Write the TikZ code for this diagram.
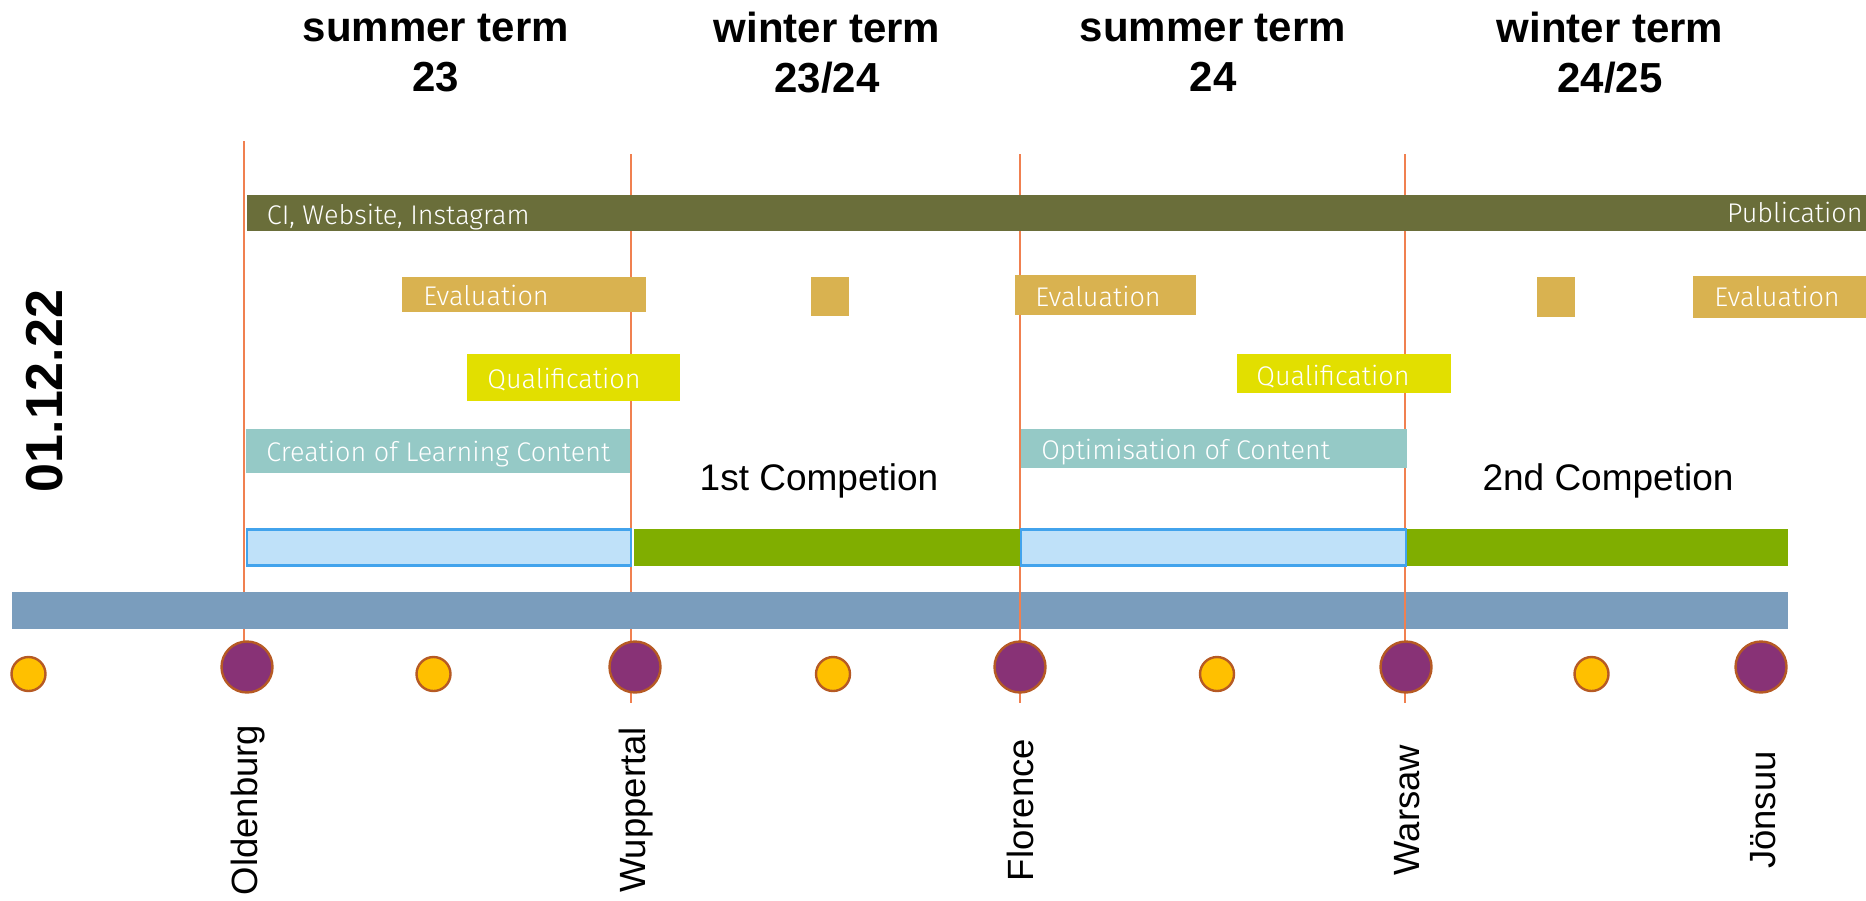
\documentclass[tikz,border=0pt]{standalone}
\usepackage{fontspec}
\setmainfont{Liberation Sans}
\IfFontExistsTF{Fira Sans Light}{\newfontfamily\lightfont{Fira Sans Light}}{\newfontfamily\lightfont{Fira Sans}}
\definecolor{barolive}{HTML}{6A6E3A}
\definecolor{bargold}{HTML}{D9B250}
\definecolor{baryellow}{HTML}{E2DF00}
\definecolor{barteal}{HTML}{95C9C6}
\definecolor{barlight}{HTML}{BFE1F9}
\definecolor{barlightborder}{HTML}{42A3EC}
\definecolor{bargreen}{HTML}{80AE00}
\definecolor{barsteel}{HTML}{7A9DBD}
\definecolor{dotpurple}{HTML}{883276}
\definecolor{dotyellow}{HTML}{FFC000}
\definecolor{dotborder}{HTML}{B65A24}
\definecolor{markorange}{HTML}{F08050}
\tikzset{
  bartext/.style={font=\lightfont\fontsize{13.5}{16}\selectfont, text=white, inner sep=0pt, anchor=base west},
  termlabel/.style={font=\bfseries\fontsize{21}{25}\selectfont, align=center, inner sep=0pt, anchor=center},
  citylabel/.style={font=\fontsize{18.25}{20}\selectfont, rotate=90, anchor=base, inner sep=0pt},
  complabel/.style={font=\fontsize{18.5}{20}\selectfont, anchor=base, inner sep=0pt},
  bigdot/.style={circle, fill=dotpurple, draw=dotborder, line width=1.2pt, minimum size=25.5pt, inner sep=0pt},
  smalldot/.style={circle, fill=dotyellow, draw=dotborder, line width=1.2pt, minimum size=17pt, inner sep=0pt},
  marker/.style={draw=markorange, line width=0.75pt},
}
\begin{document}
\begin{tikzpicture}[x=0.5pt, y=-0.5pt]
\useasboundingbox (0,0) rectangle (1866,900);

% term headers
\node[termlabel] (t1) at (436,53) {summer term\\23};
\node[termlabel] (t2) at (827,53) {winter term\\23/24};
\node[termlabel] (t3) at (1213,53) {summer term\\24};
\node[termlabel] (t4) at (1610,53) {winter term\\24/25};

% date
\node[font=\bfseries\fontsize{26}{28}\selectfont, rotate=90, anchor=base, inner sep=0pt] (date) at (62,391) {01.12.22};

% marker line end points
\coordinate (m1t) at (244,141); \coordinate (m1b) at (244,667);
\coordinate (m2t) at (631,154); \coordinate (m2b) at (631,703);
\coordinate (m3t) at (1020,154); \coordinate (m3b) at (1020,703);
\coordinate (m4t) at (1405,154); \coordinate (m4b) at (1405,703);

\draw[marker] (m1t) -- (m1b);
\draw[marker] (m2t) -- (m2b);

% steel band
\fill[barsteel] (12,592) rectangle (1788,629);

\draw[marker] (m3t) -- (m3b);
\draw[marker] (m4t) -- (m4b);

% olive bar
\fill[barolive] (247,195) rectangle (1866,231);
\node[bartext] (ci) at (266.5,224) {CI, Website, Instagram};
\node[bartext, anchor=base east] (pub) at (1863,222) {Publication};

% evaluation
\fill[bargold] (402,277) rectangle (646,312);
\node[bartext] (ev1) at (423,305) {Evaluation};
\fill[bargold] (811,277) rectangle (849,316);
\fill[bargold] (1015,275) rectangle (1196,315);
\node[bartext] (ev2) at (1035,306) {Evaluation};
\fill[bargold] (1537,277) rectangle (1575,317);
\fill[bargold] (1693,276) rectangle (1866,318);
\node[bartext] (ev3) at (1714,306.5) {Evaluation};

% qualification
\fill[baryellow] (467,354) rectangle (680,401);
\node[bartext] (q1) at (487,388) {Qualification};
\fill[baryellow] (1237,354) rectangle (1451,393);
\node[bartext] (q2) at (1256,385) {Qualification};

% content
\fill[barteal] (246,429) rectangle (630,473);
\node[bartext] (c1) at (266,461.5) {Creation of Learning Content};
\fill[barteal] (1021,429) rectangle (1407,468);
\node[bartext] (c2) at (1041,459) {Optimisation of Content};

% competitions
\node[complabel] (comp1) at (819,490) {1st Competion};
\node[complabel] (comp2) at (1608,490) {2nd Competion};

% phase bars
\fill[bargreen] (634,529) rectangle (1020,566);
\fill[bargreen] (1407,529) rectangle (1788,566);
\filldraw[fill=barlight, draw=barlightborder, line width=1.2pt] (247,529.5) rectangle (631,565.5);
\filldraw[fill=barlight, draw=barlightborder, line width=1.2pt] (1021,529.5) rectangle (1406,565.5);

% dots
\node[smalldot] (s1) at (28.5,674) {};
\node[bigdot] (b1) at (247,667) {};
\node[smalldot] (s2) at (433.5,674) {};
\node[bigdot] (b2) at (635,667) {};
\node[smalldot] (s3) at (833,674) {};
\node[bigdot] (b3) at (1020,667) {};
\node[smalldot] (s4) at (1217,674) {};
\node[bigdot] (b4) at (1406,667) {};
\node[smalldot] (s5) at (1591.5,674) {};
\node[bigdot] (b5) at (1761,667) {};

% cities
\node[citylabel] (oldenburg) at (257,810) {Oldenburg};
\node[citylabel] (wuppertal) at (645,810) {Wuppertal};
\node[citylabel] (florence) at (1033,810) {Florence};
\node[citylabel] (warsaw) at (1419,810) {Warsaw};
\node[citylabel] (joensuu) at (1775,810) {Jönsuu};
\end{tikzpicture}
\end{document}
